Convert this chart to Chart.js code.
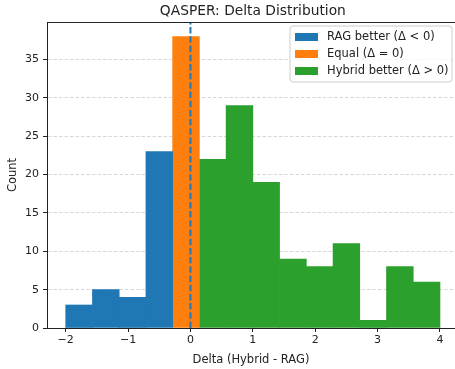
<!DOCTYPE html>
<html>
<head>
<meta charset="utf-8">
<script src="https://cdn.jsdelivr.net/npm/chart.js@4"></script>
<style>
  html, body { margin: 0; padding: 0; background: #fff; }
  #wrap { width: 455px; height: 369px; }
</style>
</head>
<body>
<div id="wrap"><canvas id="myChart" width="455" height="369"></canvas></div>
<script>
// histogram bins (edges) and counts per group
const ragEdges = [-2.0, -1.5714, -1.1429, -0.7143, -0.2857];
const ragCounts = [3, 5, 4, 23];
const equalEdges = [-0.2857, 0.1429];
const equalCounts = [38];
const hybridEdges = [0.1429, 0.5714, 1.0, 1.4286, 1.8571, 2.2857, 2.7143, 3.1429, 3.5714, 4.0];
const hybridCounts = [22, 29, 19, 9, 8, 11, 1, 8, 6];
const xTicks = [-2, -1, 0, 1, 2, 3, 4];
const yTicks = [0, 5, 10, 15, 20, 25, 30, 35];
const labels = ['RAG better (Δ < 0)', 'Equal (Δ = 0)', 'Hybrid better (Δ > 0)'];
const colors = ['#1f77b4', '#ff7f0e', '#2ca02c'];
const titleText = 'QASPER: Delta Distribution';

const FONT = "'DejaVu Sans', sans-serif";

function toBins(edges, counts) {
  return counts.map((c, i) => ({ x: (edges[i] + edges[i + 1]) / 2, y: c }));
}

function barSet(i, edges, counts) {
  return {
    type: 'bar',
    label: labels[i],
    data: toBins(edges, counts),
    backgroundColor: colors[i],
    borderWidth: 0,
    barPercentage: 1,
    categoryPercentage: 1,
    grouped: false,
    order: 2
  };
}

// title over the axes, frame top line, legend box inside the plot
const framePlugin = {
  id: 'frameAndLegend',
  afterDraw(chart) {
    const { ctx, chartArea } = chart;
    ctx.save();
    ctx.strokeStyle = '#222';
    ctx.lineWidth = 1;
    ctx.beginPath();
    ctx.moveTo(chartArea.left, chartArea.top + 0.5);
    ctx.lineTo(chartArea.right, chartArea.top + 0.5);
    ctx.stroke();

    // title centred on the (uncut) axes
    ctx.font = '13.8px ' + FONT;
    ctx.fillStyle = '#222';
    ctx.textAlign = 'center';
    ctx.textBaseline = 'middle';
    ctx.fillText(titleText, chart.scales.x.getPixelForValue(1), 11);

    // legend
    const bx = 290, by = 26, bw = 162, bh = 56, r = 3;
    ctx.fillStyle = 'rgba(255,255,255,0.8)';
    ctx.strokeStyle = '#cccccc';
    ctx.beginPath();
    ctx.moveTo(bx + r, by);
    ctx.lineTo(bx + bw - r, by);
    ctx.arcTo(bx + bw, by, bx + bw, by + r, r);
    ctx.lineTo(bx + bw, by + bh - r);
    ctx.arcTo(bx + bw, by + bh, bx + bw - r, by + bh, r);
    ctx.lineTo(bx + r, by + bh);
    ctx.arcTo(bx, by + bh, bx, by + bh - r, r);
    ctx.lineTo(bx, by + r);
    ctx.arcTo(bx, by, bx + r, by, r);
    ctx.closePath();
    ctx.fill();
    ctx.stroke();

    ctx.font = '11.5px ' + FONT;
    ctx.textAlign = 'left';
    labels.forEach((lab, i) => {
      const cy = 37 + i * 17;
      ctx.fillStyle = colors[i];
      ctx.fillRect(295, cy - 4, 23, 8);
      ctx.fillStyle = '#222';
      ctx.fillText(lab, 327, cy);
    });
    ctx.restore();
  }
};

const ctx = document.getElementById('myChart');
let myChart = new Chart(ctx, {
  data: {
    datasets: [
      {
        type: 'line',
        label: 'zero',
        data: [{ x: 0, y: 0 }, { x: 0, y: 39.9 }],
        borderColor: '#1f77b4',
        borderWidth: 2,
        borderDash: [6.5, 2.7],
        pointRadius: 0,
        fill: false,
        order: 0
      },
      barSet(0, ragEdges, ragCounts),
      barSet(1, equalEdges, equalCounts),
      barSet(2, hybridEdges, hybridCounts)
    ]
  },
  options: {
    responsive: false,
    animation: false,
    layout: { padding: { top: 22, left: 0, right: 0, bottom: 0 } },
    plugins: {
      legend: { display: false },
      tooltip: { enabled: false },
      title: { display: false }
    },
    scales: {
      x: {
        type: 'linear',
        min: -2.3,
        max: 4.241,
        offset: false,
        afterBuildTicks: (s) => { s.ticks = xTicks.map(v => ({ value: v })); },
        afterFit: (s) => { s.height = 41; },
        ticks: {
          color: '#222',
          font: { family: FONT, size: 11 },
          padding: 2,
          maxRotation: 0,
          callback: (v) => (v < 0 ? '\u2212' + Math.abs(v) : String(v))
        },
        grid: { offset: false, drawOnChartArea: false, tickLength: 4, tickColor: '#222' },
        border: { display: true, color: '#222', width: 1 },
        title: {
          display: true,
          text: 'Delta (Hybrid - RAG)',
          color: '#222',
          font: { family: FONT, size: 11.5 },
          padding: { top: 2, bottom: 2 }
        }
      },
      y: {
        type: 'linear',
        min: 0,
        max: 39.9,
        afterBuildTicks: (s) => { s.ticks = yTicks.map(v => ({ value: v })); },
        afterFit: (s) => { s.width = 47; },
        ticks: {
          color: '#222',
          font: { family: FONT, size: 11 },
          padding: 4
        },
        grid: {
          color: 'rgba(176,176,176,0.5)',
          lineWidth: 1,
          tickLength: 4,
          tickColor: '#222',
          tickBorderDash: []
        },
        border: { display: true, color: '#222', width: 1, dash: [3.5, 2] },
        title: {
          display: true,
          text: 'Count',
          color: '#222',
          font: { family: FONT, size: 11.5 },
          padding: { top: 6, bottom: 0 }
        }
      }
    }
  },
  plugins: [framePlugin]
});
</script>
</body>
</html>
